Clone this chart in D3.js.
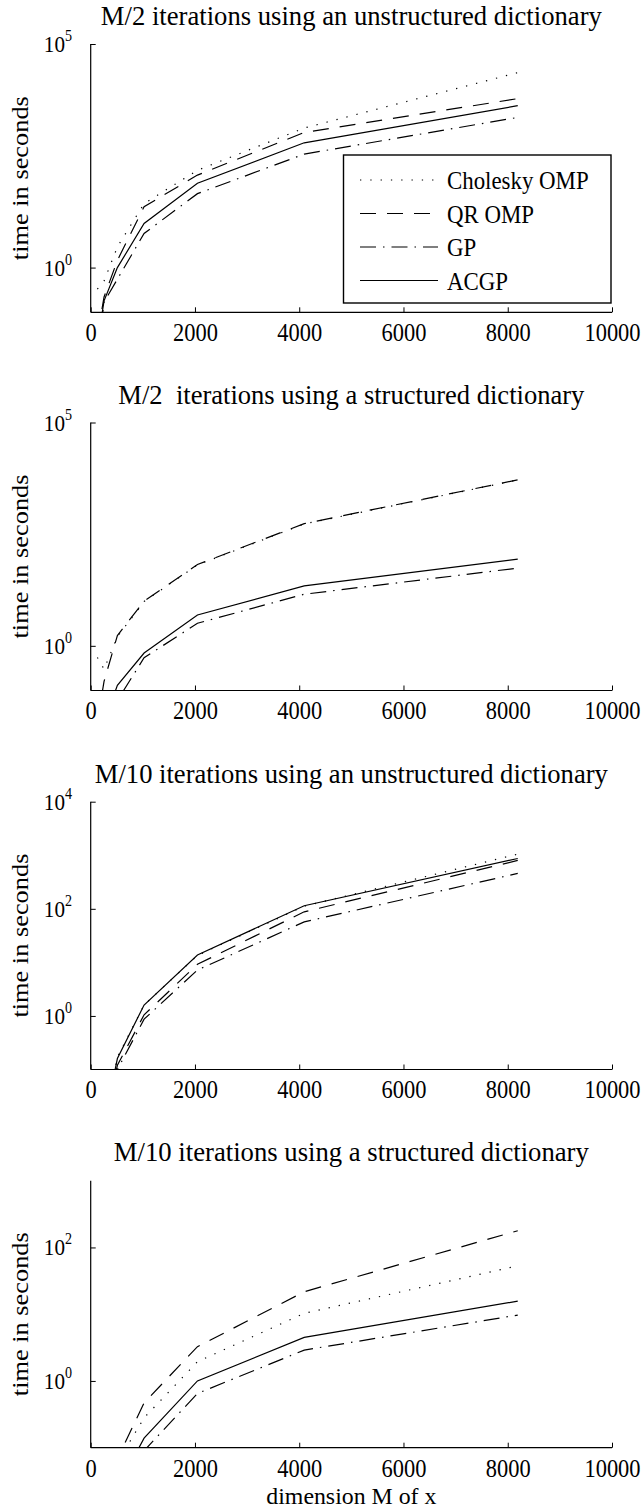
<!DOCTYPE html>
<html>
<head>
<meta charset="utf-8">
<script src="https://cdn.jsdelivr.net/npm/d3@7"></script>
<style>
  html, body { margin: 0; padding: 0; background: #fff; }
  svg { display: block; }
  text { font-family: "Liberation Serif", "Times New Roman", Times, serif; fill: #000; }
</style>
</head>
<body>
<svg id="chart" width="643" height="1510"></svg>
<script>
// Problem dimensions M (x axis)
const dims = [128, 256, 512, 1024, 2048, 4096, 8192];
const methods = ["Cholesky OMP", "QR OMP", "GP", "ACGP"];
const xTicks = [0, 2000, 4000, 6000, 8000, 10000];

const panelTitles = [
  "M/2 iterations using an unstructured dictionary",
  "M/2  iterations using a structured dictionary",
  "M/10 iterations using an unstructured dictionary",
  "M/10 iterations using a structured dictionary"
];

// Run times in seconds, one array per method and panel
const p1Cholesky = [0.33, 0.5, 2.9, 27, 150, 1320, 22900];
const p1QR       = [0.03, 0.22, 1.45, 23, 117, 1050, 6000];
const p1GP       = [0.01, 0.17, 0.55, 5.8, 45, 345, 2280];
const p1ACGP     = [0.02, 0.18, 1.0, 9.7, 77, 617, 4170];

const p2Cholesky = [0.55, 0.3, 1.6, 9.8, 65, 535, 5150];
const p2QR       = [0.02, 0.16, 1.7, 10, 66, 545, 5200];
const p2GP       = [0.005, 0.02, 0.06, 0.54, 3.2, 14.3, 55];
const p2ACGP     = [0.005, 0.02, 0.13, 0.69, 4.9, 22, 87];

const p3Cholesky = [0.001, 0.01, 0.17, 1.6, 13.5, 112, 1050];
const p3QR       = [0.001, 0.008, 0.12, 1.05, 9.2, 88, 800];
const p3GP       = [0.001, 0.007, 0.1, 0.87, 7.2, 57, 458];
const p3ACGP     = [0.001, 0.01, 0.16, 1.6, 13.7, 114, 870];

const p4Cholesky = [0.0005, 0.005, 0.06, 0.28, 1.94, 10.3, 53];
const p4QR       = [0.0005, 0.005, 0.068, 0.47, 3.26, 21.7, 178];
const p4GP       = [0.0005, 0.003, 0.02, 0.09, 0.65, 2.9, 9.7];
const p4ACGP     = [0.0005, 0.003, 0.025, 0.139, 1.0, 4.5, 15.7];

// y-axis domains (powers of ten) and labelled decades per panel
const yDomains = [[0.1, 1e5], [0.1, 1e5], [0.1, 1e4], [0.1, 1e3]];
const yTickExps = [[0, 5], [0, 5], [0, 2, 4], [0, 2]];

const dashes = {
  "Cholesky OMP": "1.3,9",
  "QR OMP": "16,11",
  "GP": "16,7,1.5,7",
  "ACGP": null
};

// layout of the four stacked panels
const plotLeft = 90.7, plotRight = 612;
const panelBoxes = [
  { top: 44,    bottom: 312.3, titleY: 25 },
  { top: 422.5, bottom: 690.5, titleY: 404 },
  { top: 801.7, bottom: 1069.5, titleY: 783 },
  { top: 1180.7, bottom: 1447.7, titleY: 1161 }
];
const titleWidths = [501, 466, 513, 475];
const squeeze = 0.88;   // narrow glyph width used for the serif labels

const panels = [
  [p1Cholesky, p1QR, p1GP, p1ACGP],
  [p2Cholesky, p2QR, p2GP, p2ACGP],
  [p3Cholesky, p3QR, p3GP, p3ACGP],
  [p4Cholesky, p4QR, p4GP, p4ACGP]
];

const svg = d3.select("#chart");
const x = d3.scaleLinear().domain([0, 10000]).range([plotLeft, plotRight]);
const midX = (plotLeft + plotRight) / 2;

panels.forEach((series, i) => {
  const box = panelBoxes[i];
  const y = d3.scaleLog().domain(yDomains[i]).range([box.bottom, box.top]);
  const g = svg.append("g");

  // clip region for the data lines
  const clipId = "clip" + i;
  svg.append("clipPath").attr("id", clipId)
    .append("rect")
    .attr("x", plotLeft).attr("y", box.top)
    .attr("width", plotRight - plotLeft).attr("height", box.bottom - box.top);

  // title
  g.append("text")
    .attr("x", midX).attr("y", box.titleY)
    .attr("text-anchor", "middle")
    .style("font-size", "28px")
    .attr("textLength", titleWidths[i])
    .attr("lengthAdjust", "spacingAndGlyphs")
    .style("white-space", "pre")
    .text(panelTitles[i]);

  // x axis with inward ticks
  const xAxis = d3.axisBottom(x).tickValues(xTicks).tickSize(-5).tickFormat(d3.format("d"));
  const xg = g.append("g").attr("transform", `translate(0,${box.bottom})`).call(xAxis);
  xg.select(".domain").attr("d", `M${plotLeft},0H${plotRight}`).attr("stroke", "#000").attr("stroke-width", 1.2);
  xg.selectAll(".tick line").attr("stroke", "#000").attr("stroke-width", 1);
  xg.selectAll(".tick text")
    .attr("y", 29).attr("dy", null)
    .attr("transform", `scale(${squeeze},1)`)
    .style("font-size", "25.5px");

  // y axis (log) with inward ticks at labelled decades
  const yVals = yTickExps[i].map(e => Math.pow(10, e));
  const yAxis = d3.axisLeft(y).tickValues(yVals).tickSize(-5).tickFormat(() => "");
  const yg = g.append("g").attr("transform", `translate(${plotLeft},0)`).call(yAxis);
  yg.select(".domain").attr("d", `M0,${box.top}V${box.bottom}`).attr("stroke", "#000").attr("stroke-width", 1.2);
  yg.selectAll(".tick line").attr("stroke", "#000").attr("stroke-width", 1);

  yTickExps[i].forEach(e => {
    const t = g.append("text")
      .attr("transform", `translate(72,${y(Math.pow(10, e)) + 8}) scale(${squeeze},1)`)
      .attr("text-anchor", "end")
      .style("font-size", "24px");
    t.append("tspan").text("10");
    t.append("tspan").style("font-size", "16px").attr("dy", -11).text(String(e));
  });

  // y axis title
  g.append("text")
    .attr("transform", `translate(28,${(box.top + box.bottom) / 2}) rotate(-90) scale(1,${squeeze})`)
    .attr("text-anchor", "middle")
    .style("font-size", "27px")
    .attr("textLength", 164)
    .attr("lengthAdjust", "spacingAndGlyphs")
    .text("time in seconds");

  // data lines
  const line = d3.line().x((d, k) => x(dims[k])).y(d => y(d));
  const lg = g.append("g").attr("clip-path", `url(#${clipId})`);
  series.forEach((vals, m) => {
    const p = lg.append("path")
      .datum(vals)
      .attr("d", line)
      .attr("fill", "none")
      .attr("stroke", "#000")
      .attr("stroke-width", 1.2);
    if (dashes[methods[m]]) p.attr("stroke-dasharray", dashes[methods[m]]);
  });
});

// shared x axis title under the last panel
svg.append("text")
  .attr("x", midX).attr("y", 1504)
  .attr("text-anchor", "middle")
  .style("font-size", "24px")
  .attr("textLength", 170)
  .attr("lengthAdjust", "spacingAndGlyphs")
  .text("dimension M of x");

// legend in the first panel
const legend = svg.append("g");
legend.append("rect")
  .attr("x", 343.5).attr("y", 155)
  .attr("width", 267.5).attr("height", 148)
  .attr("fill", "#fff").attr("stroke", "#000").attr("stroke-width", 1.4);
const legendY = [180, 213.5, 247, 280.5];
methods.forEach((name, m) => {
  const l = legend.append("line")
    .attr("x1", 360).attr("x2", 438)
    .attr("y1", legendY[m]).attr("y2", legendY[m])
    .attr("stroke", "#000").attr("stroke-width", 1.2);
  if (dashes[name]) l.attr("stroke-dasharray", dashes[name]);
  legend.append("text")
    .attr("transform", `translate(447,${legendY[m] + 9}) scale(${squeeze},1)`)
    .style("font-size", "26px")
    .text(name);
});
</script>
</body>
</html>
